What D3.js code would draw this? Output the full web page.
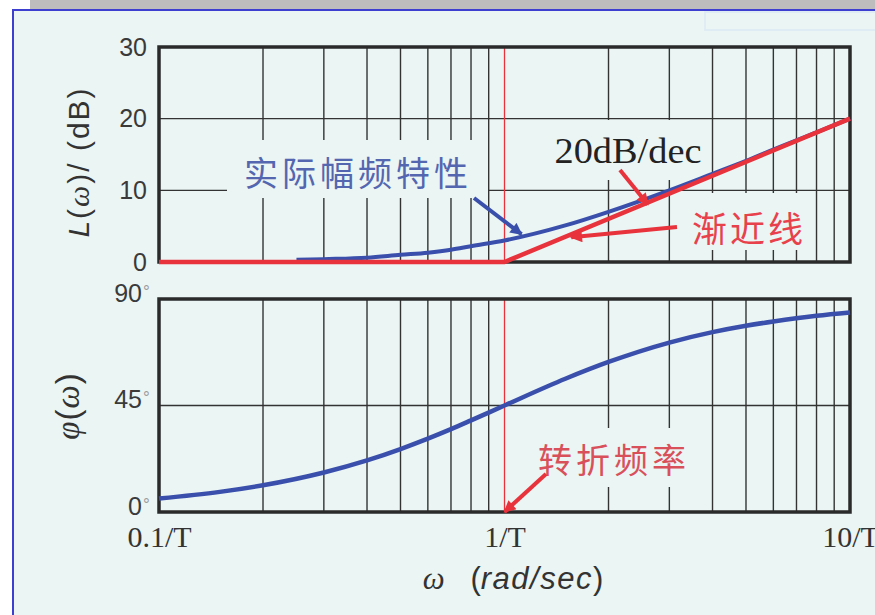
<!DOCTYPE html>
<html>
<head>
<meta charset="utf-8">
<script src="https://cdn.jsdelivr.net/npm/d3@7/dist/d3.min.js"></script>
<style>
  html, body { margin: 0; padding: 0; background: #ffffff; }
  svg { display: block; }
</style>
</head>
<body>
<svg id="chart" width="875" height="615"></svg>
<script>
// ---- data ----
const freqTicks = [0.1, 1, 10];
const freqTickLabels = ["0.1/T", "1/T", "10/T"];
const freqGrid = [0.2, 0.3, 0.4, 0.5, 0.6, 0.7, 0.8, 0.9, 2, 3, 4, 5, 6, 7, 8, 9];
const cornerFreq = 1;

const magTicks = [0, 10, 20, 30];
const magGrid = [10, 20];
const phaseTicks = [0, 45, 90];
const phaseGrid = [45];

// straight-line approximation (dB)
const asymptoteFreq = [0.1, 1, 10];
const asymptoteDb   = [0, 0, 20];

// exact magnitude curve (dB)
const actualFreq = [0.25, 0.3, 0.4, 0.5, 0.6, 0.7, 0.8, 1, 1.5, 2, 3, 4, 5, 6, 8, 10];
const actualDb   = [0.3, 0.4, 0.6, 1.0, 1.3, 1.7, 2.2, 3.0, 5.1, 7.0, 10.0, 12.3, 14.1, 15.7, 18.1, 20.0];

// phase curve (degrees)
const phaseFreq = [0.1, 0.15, 0.2, 0.3, 0.4, 0.5, 0.6, 0.7, 0.8, 1, 1.5, 2, 3, 4, 5, 6, 8, 10];
const phaseDeg  = [5.7, 8.5, 11.3, 16.7, 21.8, 26.6, 31.0, 35.0, 38.7, 45.0, 56.3, 63.4, 71.6, 76.0, 78.7, 80.5, 82.9, 84.3];

// ---- layout ----
const svg = d3.select("#chart");
const BG = "#eaf5f4";
const BLUE = "#3a4fab";
const RED = "#e8323c";
const GRID = "#333333";
const FRAME = "#2a2a2a";

const x = d3.scaleLog().domain([0.1, 10]).range([159, 850]);
const yMag = d3.scaleLinear().domain([0, 30]).range([262, 47]);
const yPh = d3.scaleLinear().domain([0, 90]).range([512, 299]);

// page frame
svg.append("rect").attr("x", 0).attr("y", 0).attr("width", 875).attr("height", 615).attr("fill", "#ffffff");
svg.append("rect").attr("x", 30).attr("y", 0).attr("width", 845).attr("height", 9).attr("fill", "#bdbdbd");
svg.append("rect").attr("x", 13).attr("y", 10).attr("width", 870).attr("height", 610)
  .attr("fill", BG).attr("stroke", "#3c3fd0").attr("stroke-width", 2);
svg.append("rect").attr("x", 705).attr("y", 12).attr("width", 180).attr("height", 18)
  .attr("fill", "none").attr("stroke", "#dde9f4").attr("stroke-width", 1.5);

// arrow markers
const defs = svg.append("defs");
function marker(id, color) {
  defs.append("marker").attr("id", id)
    .attr("viewBox", "0 0 10 10").attr("refX", 9).attr("refY", 5)
    .attr("markerUnits", "userSpaceOnUse").attr("markerWidth", 14).attr("markerHeight", 12)
    .attr("orient", "auto")
    .append("path").attr("d", "M0,0 L10,5 L0,10 Z").attr("fill", color);
}
marker("arrBlue", BLUE);
marker("arrRed", RED);

function panel(yScale, gridVals) {
  const g = svg.append("g");
  const [y0, y1] = yScale.range();
  // vertical grid
  g.selectAll(".vg").data(freqGrid).join("line")
    .attr("x1", d => x(d)).attr("x2", d => x(d))
    .attr("y1", y1).attr("y2", y0)
    .attr("stroke", GRID).attr("stroke-width", 1.4);
  // horizontal grid
  g.selectAll(".hg").data(gridVals).join("line")
    .attr("x1", x.range()[0]).attr("x2", x.range()[1])
    .attr("y1", d => yScale(d)).attr("y2", d => yScale(d))
    .attr("stroke", GRID).attr("stroke-width", 1.4);
  // corner frequency marker
  g.append("line")
    .attr("x1", x(cornerFreq)).attr("x2", x(cornerFreq))
    .attr("y1", y1).attr("y2", y0)
    .attr("stroke", RED).attr("stroke-width", 1.3);
  return g;
}

const magPanel = panel(yMag, magGrid);
const phasePanel = panel(yPh, phaseGrid);

// label backing boxes (the grid is hidden behind annotation text)
const boxes = [
  [227, 140, 261, 58],
  [548, 120, 157, 60],
  [688, 193, 122, 57],
  [530, 428, 165, 59]
];
svg.selectAll(".box").data(boxes).join("rect")
  .attr("x", d => d[0]).attr("y", d => d[1]).attr("width", d => d[2]).attr("height", d => d[3])
  .attr("fill", BG);

// frames
function frame(yScale) {
  const [y0, y1] = yScale.range();
  svg.append("rect")
    .attr("x", x.range()[0]).attr("y", y1)
    .attr("width", x.range()[1] - x.range()[0]).attr("height", y0 - y1)
    .attr("fill", "none").attr("stroke", FRAME).attr("stroke-width", 3.5);
}
frame(yMag);
frame(yPh);

// curves
const lineMag = d3.line().x(d => x(d[0])).y(d => yMag(d[1]));
const linePh = d3.line().x(d => x(d[0])).y(d => yPh(d[1])).curve(d3.curveMonotoneX);
const lineActual = d3.line().x(d => x(d[0])).y(d => yMag(d[1])).curve(d3.curveMonotoneX);

svg.append("path")
  .attr("d", lineActual(d3.zip(actualFreq, actualDb)))
  .attr("fill", "none").attr("stroke", BLUE).attr("stroke-width", 4);
svg.append("path")
  .attr("d", lineMag(d3.zip(asymptoteFreq, asymptoteDb)))
  .attr("fill", "none").attr("stroke", RED).attr("stroke-width", 4.5);
svg.append("path")
  .attr("d", linePh(d3.zip(phaseFreq, phaseDeg)))
  .attr("fill", "none").attr("stroke", BLUE).attr("stroke-width", 4.5);

// axes
const sans = "'Liberation Sans', Arial, sans-serif";
const serif = "'Liberation Serif', 'Times New Roman', serif";
const cjk = "'Noto Sans CJK SC', sans-serif";

const axMag = svg.append("g").attr("transform", `translate(${x.range()[0] - 12},0)`)
  .call(d3.axisLeft(yMag).tickValues(magTicks).tickSize(0).tickPadding(0).tickFormat(d3.format("d")));
axMag.select(".domain").remove();
axMag.selectAll("text").attr("font-family", sans).attr("font-size", 25).attr("fill", "#3a3a3a");

const axPh = svg.append("g").attr("transform", `translate(${x.range()[0] - 17},-6)`)
  .call(d3.axisLeft(yPh).tickValues(phaseTicks).tickSize(0).tickPadding(0).tickFormat(d3.format("d")));
axPh.select(".domain").remove();
axPh.selectAll("text").attr("font-family", sans).attr("font-size", 25).attr("fill", "#3a3a3a");
axPh.selectAll(".tick").append("text")
  .attr("x", 1).attr("y", 3)
  .attr("font-family", sans).attr("font-size", 17).attr("fill", "#9a9a9a")
  .attr("text-anchor", "start").text("°");

const axX = svg.append("g").attr("transform", `translate(0,${yPh.range()[0] + 14})`)
  .call(d3.axisBottom(x).tickValues(freqTicks).tickSize(0).tickPadding(0)
    .tickFormat((d, i) => freqTickLabels[i]));
axX.select(".domain").remove();
axX.selectAll("text").attr("font-family", serif).attr("font-size", 30).attr("fill", "#333")
  .attr("dy", "0.71em");

// axis titles
const tMag = svg.append("text")
  .attr("transform", "translate(89,162) rotate(-90)")
  .attr("text-anchor", "middle").attr("font-family", sans).attr("font-size", 30)
  .attr("fill", "#333").attr("letter-spacing", 2);
tMag.append("tspan").attr("font-style", "italic").text("L");
tMag.append("tspan").text("(");
tMag.append("tspan").attr("font-family", serif).attr("font-style", "italic").text("ω");
tMag.append("tspan").text(")/ (dB)");

const tPh = svg.append("text")
  .attr("transform", "translate(79,406) rotate(-90)")
  .attr("text-anchor", "middle").attr("font-family", sans).attr("font-size", 33)
  .attr("fill", "#333").attr("letter-spacing", 1);
tPh.append("tspan").attr("font-family", serif).attr("font-style", "italic").text("φ");
tPh.append("tspan").text("(");
tPh.append("tspan").attr("font-family", serif).attr("font-style", "italic").text("ω");
tPh.append("tspan").text(")");

const tX = svg.append("text")
  .attr("x", 513).attr("y", 589)
  .attr("text-anchor", "middle").attr("font-family", sans).attr("font-size", 31)
  .attr("fill", "#333");
tX.append("tspan").attr("font-family", serif).attr("font-style", "italic").text("ω");
tX.append("tspan").attr("xml:space", "preserve").text("   (");
tX.append("tspan").attr("font-style", "italic").attr("letter-spacing", 1.5).text("rad/sec");
tX.append("tspan").text(")");

// annotations
function arrow(x1, y1, x2, y2, color, id) {
  svg.append("line")
    .attr("x1", x1).attr("y1", y1).attr("x2", x2).attr("y2", y2)
    .attr("stroke", color).attr("stroke-width", 4)
    .attr("marker-end", `url(#${id})`);
}

svg.append("text").attr("x", 358).attr("y", 186).attr("text-anchor", "middle")
  .attr("font-family", cjk).attr("font-size", 34).attr("letter-spacing", 4)
  .attr("fill", "#5566b0").text("实际幅频特性");
arrow(474, 198, x(1.12), yMag(3.6) - 2, BLUE, "arrBlue");

svg.append("text").attr("x", 628).attr("y", 163).attr("text-anchor", "middle")
  .attr("font-family", serif).attr("font-size", 35).attr("fill", "#222")
  .attr("textLength", 147).attr("lengthAdjust", "spacingAndGlyphs").text("20dB/dec");
arrow(620, 170, x(2.6), yMag(20 * Math.log10(2.6)) + 2, RED, "arrRed");

svg.append("text").attr("x", 749).attr("y", 242).attr("text-anchor", "middle")
  .attr("font-family", cjk).attr("font-size", 35).attr("letter-spacing", 3)
  .attr("fill", "#e8414c").text("渐近线");
arrow(677, 227, x(1.56), yMag(20 * Math.log10(1.56)) + 3, RED, "arrRed");

svg.append("text").attr("x", 614).attr("y", 473).attr("text-anchor", "middle")
  .attr("font-family", cjk).attr("font-size", 34).attr("letter-spacing", 4)
  .attr("fill", "#d9505a").text("转折频率");
arrow(546, 474, x(cornerFreq), yPh(0), RED, "arrRed");
</script>
</body>
</html>
